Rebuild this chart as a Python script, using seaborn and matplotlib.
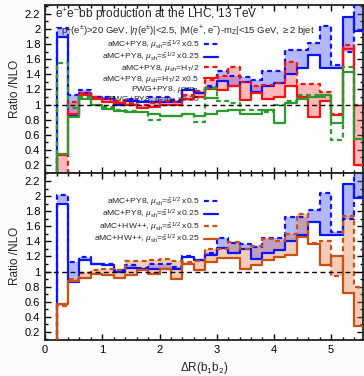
import numpy as np
import pandas as pd
import matplotlib
matplotlib.use("Agg")
import matplotlib.pyplot as plt
import seaborn as sns
from matplotlib.ticker import MultipleLocator, FormatStrFormatter

# ---------------- data (ratio to NLO, bins of dR(b1b2)) ----------------
bin_lo = [0.2, 0.4, 0.6, 0.8, 1.0, 1.2, 1.4, 1.6, 1.8, 2.0, 2.2, 2.4, 2.6, 2.8,
          3.0, 3.2, 3.4, 3.6, 3.8, 4.0, 4.2, 4.4, 4.6, 4.8, 5.0, 5.2, 5.4]
bin_w = 0.2

# aMC+PY8, mu_sh = sqrt(s_hat) x0.5 (blue dashed)
py8_s05 = [2.01, 1.12, 1.19, 1.10, 1.10, 1.02, 1.08, 1.05, 1.10, 1.10, 1.06, 1.20, 1.15, 1.25,
           1.44, 1.38, 1.37, 1.32, 1.44, 1.44, 1.72, 1.72, 1.81, 2.04, 1.52, 1.70, 2.50]
# aMC+PY8, mu_sh = sqrt(s_hat) x0.25 (blue solid)
py8_s025 = [1.90, 0.86, 1.15, 1.10, 1.08, 1.00, 1.05, 1.03, 1.04, 1.04, 1.04, 1.19, 1.15, 1.22,
            1.31, 1.25, 1.30, 1.17, 1.24, 1.28, 1.40, 1.48, 1.66, 1.48, 1.48, 2.16, 1.97]
# aMC+PY8, mu_sh = HT/2 (red dashed)
py8_ht = [0.05, 1.03, 1.15, 1.10, 1.07, 1.05, 1.02, 1.00, 1.02, 1.05, 1.03, 1.12, 1.18, 1.32,
          1.38, 1.50, 1.30, 1.24, 1.26, 1.28, 1.57, 1.27, 1.27, 1.17, 0.88, 1.79, 1.00]
# aMC+PY8, mu_sh = HT/2 x0.5 (red solid)
py8_ht05 = [0.33, 0.88, 1.12, 1.08, 1.03, 1.02, 0.99, 0.96, 0.97, 1.00, 0.99, 1.08, 1.10, 1.20,
            1.19, 1.25, 1.06, 1.15, 1.08, 1.10, 1.25, 1.10, 0.84, 1.05, 0.86, 1.73, 0.20]
# PWG+PY8, mu = mZ (green dashed)
pwg_mz = [1.55, 0.95, 1.10, 1.00, 0.97, 0.93, 0.92, 0.90, 0.80, 0.85, 0.85, 0.87, 0.77, 1.20,
          1.05, 1.02, 0.93, 0.93, 0.90, 1.00, 1.05, 1.12, 1.12, 1.10, 0.53, 1.50, 0.55]
# PWG+PY8, mu = mZ x0.25 (green solid)
pwg_mz025 = [0.34, 0.83, 1.08, 0.99, 0.94, 0.92, 0.90, 0.90, 0.88, 0.85, 0.85, 0.88, 0.85, 0.87,
             0.92, 0.93, 0.87, 0.88, 0.93, 0.76, 1.02, 1.08, 1.10, 1.13, 0.75, 1.43, 0.55]
# aMC+HW++, mu_sh = sqrt(s_hat) x0.5 (orange dashed)
hw_s05 = [0.54, 0.90, 0.98, 1.02, 1.03, 1.02, 1.14, 1.14, 1.15, 1.16, 1.14, 1.12, 1.14, 1.30,
          1.30, 1.39, 1.30, 1.34, 1.43, 1.40, 1.50, 1.76, 1.38, 1.41, 0.94, 1.74, 0.80]
# aMC+HW++, mu_sh = sqrt(s_hat) x0.25 (orange solid)
hw_s025 = [0.57, 0.87, 0.92, 0.97, 0.95, 0.92, 0.95, 1.02, 0.97, 1.03, 0.90, 1.10, 1.02, 1.13,
           1.18, 1.18, 1.04, 1.08, 1.15, 1.19, 1.22, 1.46, 1.36, 1.08, 1.20, 0.72, 0.28]

yticks = [0.2, 0.4, 0.6, 0.8, 1.0, 1.2, 1.4, 1.6, 1.8, 2.0, 2.2]
xticks = [0, 1, 2, 3, 4, 5]

# ---------------- style ----------------
sns.set_style("ticks")
plt.rcParams['font.family'] = ['Liberation Sans', 'DejaVu Sans']
plt.rcParams['mathtext.fontset'] = 'custom'
plt.rcParams['mathtext.rm'] = 'Liberation Sans'
plt.rcParams['mathtext.it'] = 'Liberation Sans:italic'
plt.rcParams['mathtext.bf'] = 'Liberation Sans:bold'

BLUE = "#0a14ff"
RED = "#ff1010"
GREEN = "#2e9a2e"
ORANGE = "#cc5010"
DASH = (0, (2.2, 1.6))

fig = plt.figure(figsize=(3.64, 3.76), dpi=100)
fig.patch.set_facecolor("#fbfbfb")
ax1 = fig.add_axes([0.124, 0.540, 0.872, 0.447])
ax2 = fig.add_axes([0.124, 0.096, 0.872, 0.444])


def step_frame(vals):
    x = [bin_lo[0]] + list(bin_lo) + [bin_lo[-1] + bin_w]
    y = [-1.0] + list(vals) + [vals[-1]]
    return pd.DataFrame({"x": x, "y": y})


def band(ax, a, b, color, alpha):
    x = list(bin_lo) + [bin_lo[-1] + bin_w]
    ax.fill_between(x, list(a) + [a[-1]], list(b) + [b[-1]], step="post",
                    color=color, alpha=alpha, lw=0, zorder=1)


def line(ax, vals, color, ls, label):
    d = step_frame(vals)
    sns.lineplot(data=d, x="x", y="y", ax=ax, color=color, linestyle=ls, lw=1.6,
                 drawstyle="steps-post", estimator=None, sort=False, label=label, zorder=3)


# top panel
band(ax1, py8_s05, py8_s025, "#4a55ff", 0.42)
band(ax1, py8_ht, py8_ht05, "#ff5050", 0.40)
line(ax1, py8_s05, BLUE, DASH, r"aMC+PY8, $\mu_{\rm sh}$=$\hat{\rm s}^{1/2}$ x0.5")
line(ax1, py8_s025, BLUE, "-", r"aMC+PY8, $\mu_{\rm sh}$=$\hat{\rm s}^{1/2}$ x0.25")
line(ax1, py8_ht, RED, DASH, r"aMC+PY8, $\mu_{\rm sh}$=H$_{\rm T}$/2")
line(ax1, py8_ht05, RED, "-", r"aMC+PY8, $\mu_{\rm sh}$=H$_{\rm T}$/2 x0.5")
line(ax1, pwg_mz, GREEN, DASH, r"PWG+PY8, $\mu$=m$_{\rm Z}$")
line(ax1, pwg_mz025, GREEN, "-", r"PWG+PY8, $\mu$=m$_{\rm Z}$ x0.25")

# bottom panel
band(ax2, py8_s05, py8_s025, "#4a55ff", 0.42)
band(ax2, hw_s05, hw_s025, "#dd7a45", 0.38)
line(ax2, py8_s05, BLUE, DASH, r"aMC+PY8, $\mu_{\rm sh}$=$\hat{\rm s}^{1/2}$ x0.5")
line(ax2, py8_s025, BLUE, "-", r"aMC+PY8, $\mu_{\rm sh}$=$\hat{\rm s}^{1/2}$ x0.25")
line(ax2, hw_s05, ORANGE, DASH, r"aMC+HW++, $\mu_{\rm sh}$=$\hat{\rm s}^{1/2}$ x0.5")
line(ax2, hw_s025, ORANGE, "-", r"aMC+HW++, $\mu_{\rm sh}$=$\hat{\rm s}^{1/2}$ x0.25")

for ax in (ax1, ax2):
    ax.set_facecolor("white")
    ax.axhline(1.0, color="black", lw=1.0, ls=(0, (3.5, 2.5)), zorder=4)
    ax.set_xlim(0, 5.55)
    ax.set_yticks(yticks)
    ax.yaxis.set_major_formatter(FormatStrFormatter("%g"))
    ax.yaxis.set_minor_locator(MultipleLocator(0.1))
    ax.set_xticks(xticks)
    ax.xaxis.set_minor_locator(MultipleLocator(0.2))
    ax.tick_params(direction="in", which="both", top=True, right=True,
                   labelsize=8, colors="black", width=1.0)
    ax.tick_params(which="major", length=4.5)
    ax.tick_params(which="minor", length=2.5)
    for s in ax.spines.values():
        s.set_linewidth(1.3)
        s.set_color("#222222")
    ax.set_ylabel("Ratio /NLO", fontsize=8.5, labelpad=3)
    ax.set_xlabel("")

ax1.set_ylim(0.094, 2.32)
ax2.set_ylim(0.094, 2.306)
ax1.tick_params(labelbottom=False)
ax2.set_xlabel(r"$\Delta$R(b$_1$b$_2$)", fontsize=8.5, labelpad=4)

leg_kw = dict(frameon=False, markerfirst=False, fontsize=6.1, handlelength=1.7,
              handletextpad=0.5, labelspacing=-0.1, borderaxespad=0, loc="upper right")
ax1.legend(bbox_to_anchor=(0.555, 0.82), **leg_kw)
ax2.legend(bbox_to_anchor=(0.555, 0.885), **leg_kw)

ax1.text(0.031, 0.948, r"e$^{+}$e$^{-}$b$\bar{\rm b}$ production at the LHC, 13 TeV",
         transform=ax1.transAxes, fontsize=8.6, ha="left", va="center")
ax1.text(0.05, 0.846,
         r"p$_{\rm T}$(e$^{\pm}$)>20 GeV, |$\eta$(e$^{\pm}$)|<2.5, |M(e$^{+}$, e$^{-}$)-m$_{\rm Z}$|<15 GeV, $\geq$2 bjet",
         transform=ax1.transAxes, fontsize=6.8, ha="left", va="center")

fig.savefig("out.png", dpi=100, facecolor=fig.get_facecolor())
